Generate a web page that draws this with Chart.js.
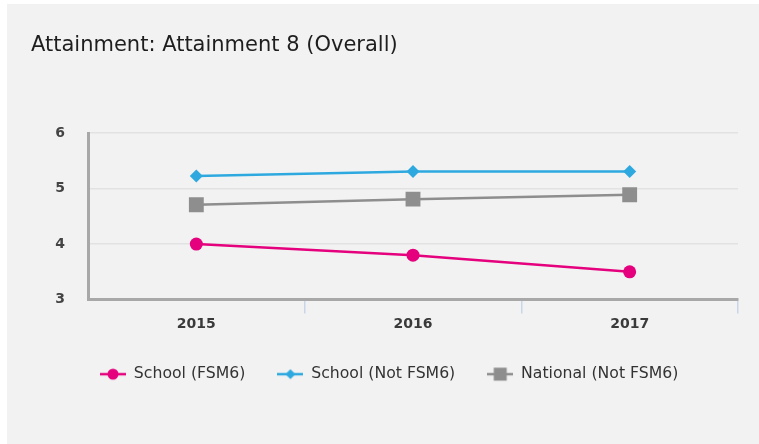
<!DOCTYPE html>
<html>
<head>
<meta charset="utf-8">
<script src="https://cdn.jsdelivr.net/npm/chart.js@4.4.0/dist/chart.umd.min.js"></script>
<style>
  html, body { margin: 0; padding: 0; background: #fff; }
  canvas { display: block; }
</style>
</head>
<body>
<canvas id="chart" width="759" height="444"></canvas>
<script>
const years = ['2015', '2016', '2017'];
const schoolFsm6 = [4.0, 3.8, 3.5];
const schoolNotFsm6 = [5.23, 5.31, 5.31];
const nationalNotFsm6 = [4.71, 4.81, 4.89];
const yTicks = [3, 4, 5, 6];

const PINK = '#e5007d';
const BLUE = '#2ea9e0';
const GREY = '#8e8e8e';
const FONT = "'DejaVu Sans', sans-serif";

// little line + marker pictures for the legend
function legendIcon(color, style, r) {
    const c = document.createElement('canvas');
    c.width = 26;
    c.height = 18;
    const g = c.getContext('2d');
    g.strokeStyle = color;
    g.fillStyle = color;
    g.lineWidth = 2.5;
    g.beginPath();
    g.moveTo(0, 9);
    g.lineTo(26, 9);
    g.stroke();
    g.beginPath();
    if (style === 'circle') {
        g.arc(13, 9, r, 0, Math.PI * 2);
    } else if (style === 'rectRot') {
        g.moveTo(13, 9 - r);
        g.lineTo(13 + r, 9);
        g.lineTo(13, 9 + r);
        g.lineTo(13 - r, 9);
        g.closePath();
    } else {
        g.rect(13 - r, 9 - r, r * 2, r * 2);
    }
    g.fill();
    return c;
}

const icons = [
    legendIcon(PINK, 'circle', 5.5),
    legendIcon(BLUE, 'rectRot', 5),
    legendIcon(GREY, 'rect', 6.5)
];

const panel = {
    id: 'panel',
    beforeDraw(chart) {
        const ctx = chart.ctx;
        ctx.save();
        ctx.fillStyle = '#f2f2f2';
        ctx.fillRect(7, 4, chart.width - 7, chart.height - 4);
        ctx.restore();
    }
};

// push legend so its first item sits under the plot like the original
const legendShift = {
    id: 'legendShift',
    afterLayout(chart) {
        const lg = chart.legend;
        const pad = lg.options.labels.padding;
        const w = lg.right - lg.left;
        lg.left = 100 - pad;
        lg.right = lg.left + w;
    }
};

new Chart(document.getElementById('chart').getContext('2d'), {
    type: 'line',
    data: {
        labels: years,
        datasets: [
            {
                label: 'School (FSM6)',
                data: schoolFsm6,
                borderColor: PINK,
                backgroundColor: PINK,
                borderWidth: 2.5,
                pointStyle: 'circle',
                pointRadius: 6.5,
                pointBorderWidth: 0
            },
            {
                label: 'School (Not FSM6)',
                data: schoolNotFsm6,
                borderColor: BLUE,
                backgroundColor: BLUE,
                borderWidth: 2.5,
                pointStyle: 'rectRot',
                pointRadius: 6.5,
                pointBorderWidth: 0
            },
            {
                label: 'National (Not FSM6)',
                data: nationalNotFsm6,
                borderColor: GREY,
                backgroundColor: GREY,
                borderWidth: 2.5,
                pointStyle: 'rect',
                pointRadius: 10.5,
                pointBorderWidth: 0
            }
        ]
    },
    options: {
        responsive: false,
        animation: false,
        devicePixelRatio: 1,
        layout: {
            padding: { left: 31, right: 21, top: 0, bottom: 52 }
        },
        scales: {
            x: {
                offset: true,
                grid: {
                    display: true,
                    drawOnChartArea: false,
                    drawTicks: true,
                    tickLength: 14,
                    offset: true,
                    color: (c) => (c.index === 0 ? 'rgba(0,0,0,0)' : '#c8d5ea'),
                    lineWidth: 1.5
                },
                border: { color: '#a8a8a8', width: 3 },
                ticks: {
                    padding: 2,
                    color: '#3a3a3a',
                    font: { family: FONT, size: 14, weight: 'bold' }
                }
            },
            y: {
                min: 3,
                max: 6,
                afterBuildTicks: (scale) => {
                    scale.ticks = yTicks.map((v) => ({ value: v }));
                },
                afterFit: (scale) => {
                    scale.width = 57;
                },
                grid: {
                    color: '#e2e2e2',
                    lineWidth: 1.5,
                    drawTicks: false
                },
                border: { color: '#a8a8a8', width: 3 },
                ticks: {
                    padding: 23,
                    color: '#444',
                    font: { family: FONT, size: 14, weight: 'bold' }
                }
            }
        },
        plugins: {
            title: {
                display: true,
                text: 'Attainment: Attainment 8 (Overall)',
                align: 'start',
                color: '#1e1e1e',
                font: { family: FONT, size: 21, weight: 'normal' },
                padding: { top: 33, bottom: 75 }
            },
            legend: {
                position: 'bottom',
                align: 'start',
                labels: {
                    usePointStyle: true,
                    pointStyleWidth: 26,
                    padding: 32,
                    color: '#333',
                    font: { family: FONT, size: 15.7 },
                    generateLabels: (chart) => {
                        const items = Chart.defaults.plugins.legend.labels.generateLabels(chart);
                        items.forEach((it, i) => { it.pointStyle = icons[i]; });
                        return items;
                    }
                }
            },
            tooltip: { enabled: false }
        }
    },
    plugins: [panel, legendShift]
});
</script>
</body>
</html>
